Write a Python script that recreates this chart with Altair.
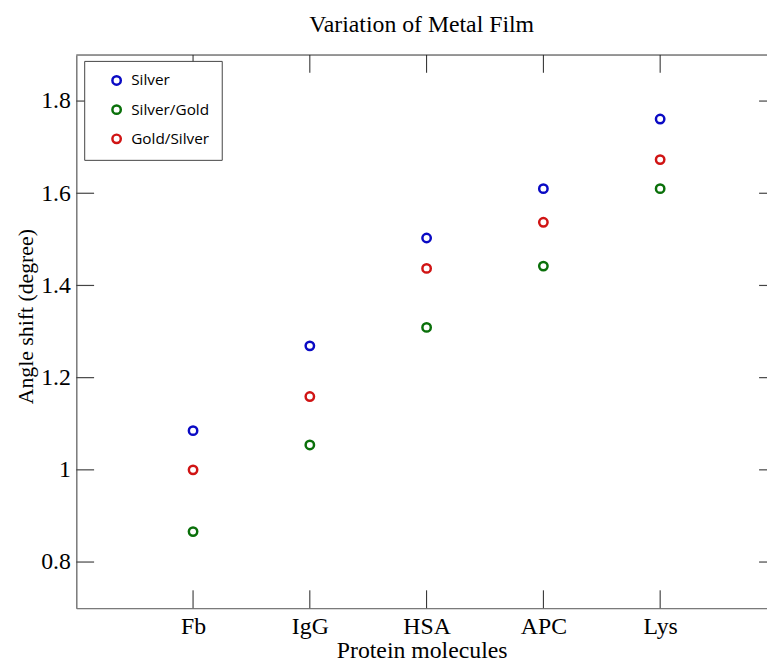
import altair as alt
import pandas as pd

# ---- data ----
proteins = ["Fb", "IgG", "HSA", "APC", "Lys"]
silver = [1.085, 1.269, 1.503, 1.610, 1.761]
silver_gold = [0.866, 1.054, 1.309, 1.442, 1.610]
gold_silver = [1.000, 1.159, 1.437, 1.537, 1.673]
series_names = ["Silver", "Silver/Gold", "Gold/Silver"]
series_colors = ["#0a0ac4", "#0a700a", "#d01414"]
x_ticks = [1, 2, 3, 4, 5]
y_ticks = [0.8, 1.0, 1.2, 1.4, 1.6, 1.8]

rows = []
for name, vals in zip(series_names, [silver, silver_gold, gold_silver]):
    for i, (p, v) in enumerate(zip(proteins, vals)):
        rows.append({"protein": p, "pos": i + 1, "series": name, "value": v})
df = pd.DataFrame(rows)
df_xt = pd.DataFrame({"pos": x_ticks})
df_yt = pd.DataFrame({"value": y_ticks})

SERIF = "Liberation Serif"
W, H = 698, 559
FULLW = 708  # true right edge of the axes box (partly outside the picture)
TICK = 18
AXIS_GRAY = "#7a7a7a"

x_scale = alt.Scale(domain=[0, 5.915], nice=False, zero=False)
y_scale = alt.Scale(domain=[0.7, 1.9], nice=False, zero=False)

label_expr = "[''," + ",".join("'%s'" % p for p in proteins) + "][datum.value]"

x_axis = alt.Axis(
    values=x_ticks, labelExpr=label_expr, title="Protein molecules",
    ticks=False, tickSize=0, grid=False,
    domainColor=AXIS_GRAY, domainWidth=1.5,
    labelFont=SERIF, labelFontSize=24, labelColor="black",
    labelBaseline="alphabetic", labelPadding=26,
    titleFont=SERIF, titleFontSize=24, titleFontWeight="normal", titleColor="black",
    titleBaseline="alphabetic", titleY=50,
)
y_axis = alt.Axis(
    values=y_ticks, format="~g", title="Angle shift (degree)",
    ticks=False, tickSize=0, grid=False,
    domainColor=AXIS_GRAY, domainWidth=1.5,
    labelFont=SERIF, labelFontSize=24, labelColor="black", labelPadding=6,
    titleFont=SERIF, titleFontSize=22, titleFontWeight="normal", titleColor="black",
    titleAngle=270, titleBaseline="alphabetic", titleX=-44, titleY=264,
)

points = alt.Chart(df).mark_point(
    filled=False, size=72, strokeWidth=2.5, opacity=1, shape="circle"
).encode(
    x=alt.X("pos:Q", scale=x_scale, axis=x_axis),
    y=alt.Y("value:Q", scale=y_scale, axis=y_axis),
    color=alt.Color(
        "series:N",
        scale=alt.Scale(domain=series_names, range=series_colors),
        legend=alt.Legend(
            title=None, orient="none", legendX=8, legendY=6,
            strokeColor="#444444", fillColor="white", padding=12,
            symbolOffset=13, labelOffset=7, rowPadding=10.5,
            labelFont="Open Sans", labelFontSize=15.5, labelColor="black",
            symbolStrokeWidth=2.5, symbolSize=72, symbolType="circle",
        ),
    ),
)

bottom_ticks = alt.Chart(df_xt).mark_rule(color="#222222", strokeWidth=1).encode(
    x=alt.X("pos:Q", scale=x_scale), y=alt.value(H), y2=alt.value(H - TICK)
)
top_ticks = alt.Chart(df_xt).mark_rule(color="#222222", strokeWidth=1).encode(
    x=alt.X("pos:Q", scale=x_scale), y=alt.value(0), y2=alt.value(TICK)
)
left_ticks = alt.Chart(df_yt).mark_rule(color="#444444", strokeWidth=1.2).encode(
    y=alt.Y("value:Q", scale=y_scale), x=alt.value(0), x2=alt.value(TICK)
)
right_ticks = alt.Chart(df_yt).mark_rule(color="#444444", strokeWidth=1.2).encode(
    y=alt.Y("value:Q", scale=y_scale), x=alt.value(FULLW), x2=alt.value(FULLW - TICK)
)
top_border = alt.Chart(df_xt.head(1)).mark_rule(color=AXIS_GRAY, strokeWidth=1.5).encode(
    x=alt.value(0), x2=alt.value(FULLW), y=alt.value(0)
)

chart = alt.layer(
    top_border, bottom_ticks, top_ticks, left_ticks, right_ticks, points
).properties(
    width=W, height=H,
    title=alt.TitleParams(
        "Variation of Metal Film", font=SERIF, fontSize=24, fontWeight="normal",
        color="black", anchor="middle", baseline="alphabetic", offset=19, dy=21,
    ),
    autosize=alt.AutoSizeParams(type="none"),
    padding={"left": 69, "top": 44, "right": 0, "bottom": 54},
).configure_view(stroke=None).configure(background="white")

chart.save("out.html", embed_options={"renderer": "svg", "actions": False})
